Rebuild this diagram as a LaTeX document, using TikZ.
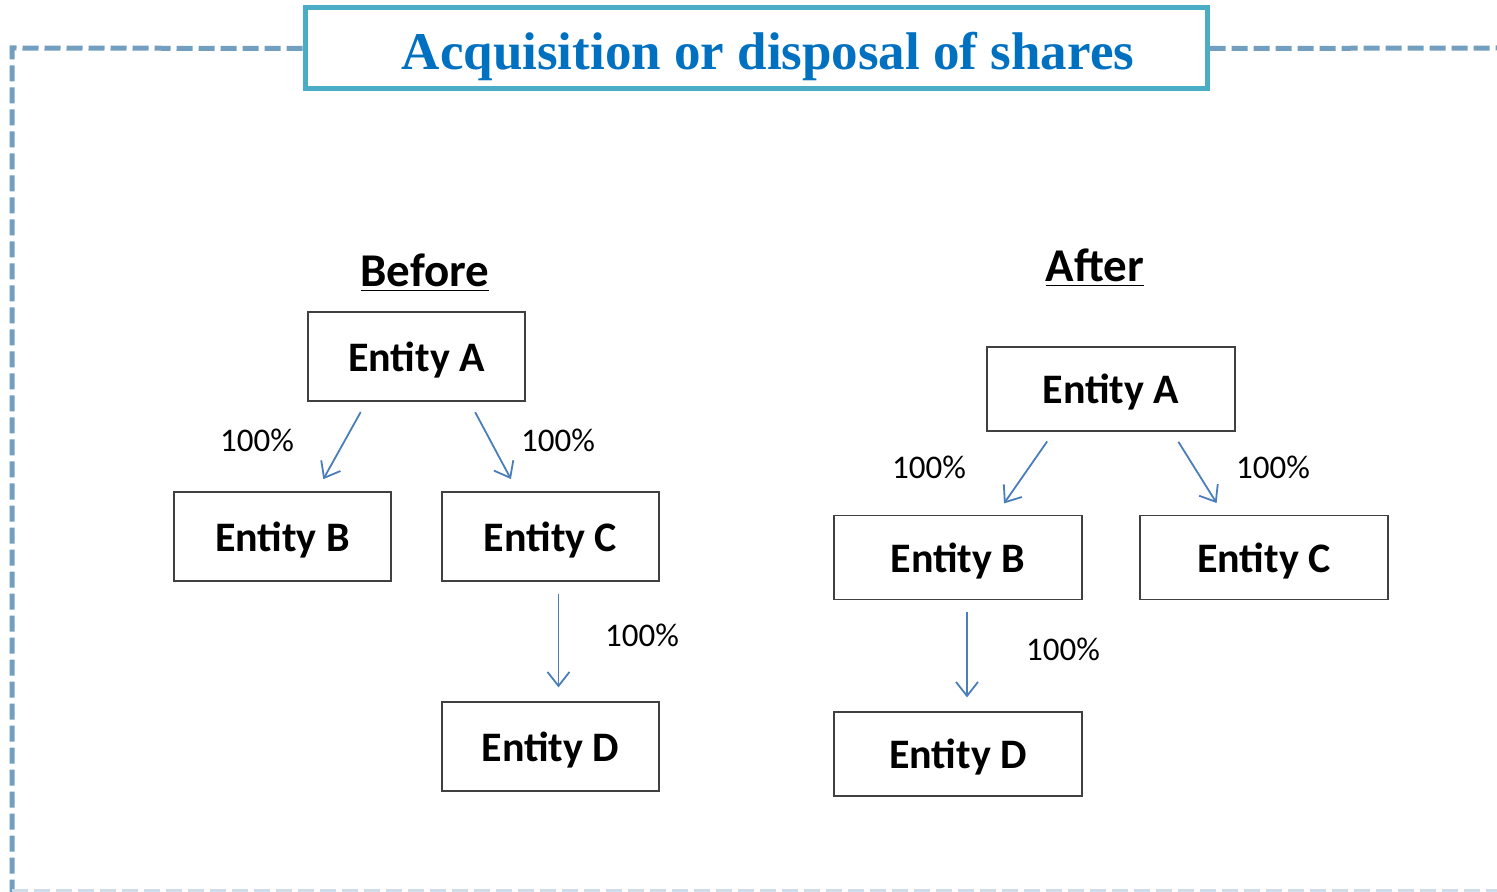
\documentclass[tikz,border=0pt]{standalone}
\usepackage{fontspec}
\setmainfont{Carlito}
\newfontfamily\titlefont{Liberation Serif}
\usetikzlibrary{calc,arrows.meta}
\definecolor{frameblue}{HTML}{729FBF}
\definecolor{titlecyan}{HTML}{4BACC6}
\definecolor{titleblue}{HTML}{0070C0}
\definecolor{linkblue}{HTML}{4A7EBB}
\newcommand{\Unit}{0.5pt}
\tikzset{Entity/.style={
    inner sep=0pt,
    text depth=0pt,
    minimum width=108.5pt,
    minimum height=44.5pt,
    draw=black!75,
    line width=0.6pt,
    font=\fontsize{21}{24}\selectfont\bfseries,
    align=center,
    }
}
\tikzset{Wide/.style={Entity,
    minimum width=124pt,
    minimum height=42pt,
    }
}

\begin{document}
\begin{tikzpicture}[x=\Unit,y=-\Unit,
    link/.style={draw=linkblue, line width=0.9pt,
        -{Straight Barb[length=7pt,width=11pt,line width=0.9pt]},
        shorten <=6pt, shorten >=7pt},
    pct/.style={font=\fontsize{16.5}{19}\selectfont},
    heading/.style={anchor=base, font=\fontsize{23.5}{27}\selectfont\bfseries},
    frame/.style={draw=frameblue, line width=2.5pt, dash pattern=on 8pt off 3pt},
]
\useasboundingbox (0,0) rectangle (1497,892);
% title and dashed frame
\node [draw=titlecyan, line width=2.5pt, minimum width=451pt, minimum height=40.5pt,
    inner sep=0pt] (title) at (756,48.5) {};
\node [anchor=base, text=titleblue, font=\titlefont\fontsize{26.5}{30}\selectfont\bfseries] (titletext)
    at (768,70) {Acquisition or disposal of shares};
\draw [frame] (title.west) -- (12,48) -- (12,892);
\draw [frame] (title.east) -- (1500,48);
\draw [frame, draw=frameblue!35] (12,891) -- (1500,891);

% before
\node [heading] (before) at (425,287) {\underline{Before}};
\node [Entity] (bA) at (416.5,356.5) {Entity A};
\node [Entity] (bB) at (282.5,536.5) {Entity B};
\node [Entity] (bC) at (550.5,536.5) {Entity C};
\node [Entity] (bD) at (550.5,746.5) {Entity D};
\draw [link] ($(bA.south)+(-50,0)$) -- ($(bB.north)+(34,0)$);
\draw [link] ($(bA.south)+(53,0)$) -- ($(bC.north)+(-33,0)$);
\draw [link] ($(bC.south)+(8,0)$) -- ($(bD.north)+(8,0)$);
\node [pct] (pBB) at (257,440) {100\%};
\node [pct] (pBC) at (558,440) {100\%};
\node [pct] (pBD) at (642,635) {100\%};

% after
\node [heading] (after) at (1095,282) {\underline{After}};
\node [Wide] (aA) at (1111,389) {Entity A};
\node [Wide] (aB) at (958,557.5) {Entity B};
\node [Wide] (aC) at (1264,557.5) {Entity C};
\node [Wide] (aD) at (958,754) {Entity D};
\draw [link] ($(aA.south)+(-57,0)$) -- ($(aB.north)+(38,0)$);
\draw [link] ($(aA.south)+(61,0)$) -- ($(aC.north)+(-40,0)$);
\draw [link] ($(aB.south)+(9,0)$) -- ($(aD.north)+(9,0)$);
\node [pct] (pAB) at (929,467) {100\%};
\node [pct] (pAC) at (1273,467) {100\%};
\node [pct] (pAD) at (1063,649) {100\%};
\end{tikzpicture}
\end{document}
